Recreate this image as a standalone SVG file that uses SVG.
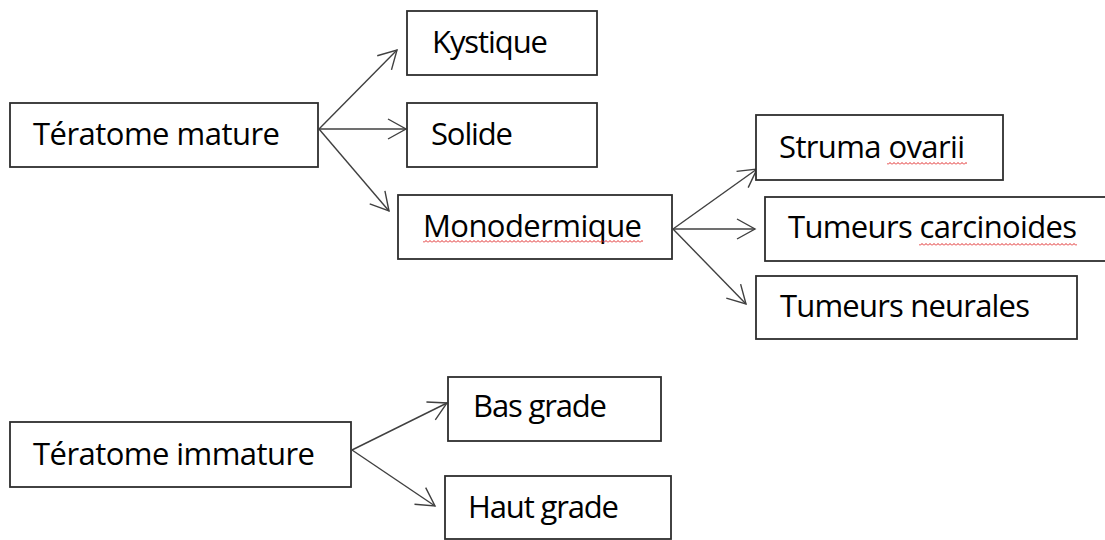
<svg xmlns="http://www.w3.org/2000/svg" width="1105" height="540" viewBox="0 0 1105 540">
<style>
.box{fill:#fff;stroke:#2e2e2e;stroke-width:1.8}
.lbl{font-family:"Open Sans","Noto Sans","Liberation Sans",sans-serif;font-size:31px;fill:#000}
.con{stroke:#404040;stroke-width:1.4;fill:none;marker-end:url(#arr)}
.wave{fill:url(#wave)}
</style>
<defs>
<marker id="arr" markerUnits="userSpaceOnUse" viewBox="-20 -12 22 24" markerWidth="22" markerHeight="24" refX="0" refY="0" orient="auto">
<path d="M-18,-10 L0,0 L-18,10" fill="none" stroke="#404040" stroke-width="1.4"/>
</marker>
<pattern id="wave" patternUnits="userSpaceOnUse" width="4" height="3">
<path d="M0,2.5 L2,0.5 L4,2.5" fill="none" stroke="#e02828" stroke-width="1"/>
</pattern>
</defs>
<rect width="1105" height="540" fill="#fff"/>
<g id="connectors">
<line class="con" x1="319" y1="129" x2="397" y2="50"/>
<line class="con" x1="319" y1="129" x2="406" y2="129"/>
<line class="con" x1="319" y1="129" x2="389" y2="211"/>
<line class="con" x1="673" y1="229" x2="757" y2="169"/>
<line class="con" x1="673" y1="229" x2="755" y2="229"/>
<line class="con" x1="673" y1="229" x2="746" y2="304"/>
<line class="con" x1="352" y1="450" x2="447" y2="403"/>
<line class="con" x1="352" y1="450" x2="435" y2="506"/>
</g>
<g id="teratome-mature">
<rect class="box" x="10" y="103" width="308" height="64"/>
<text class="lbl" x="33" y="145" textLength="247">Tératome mature</text>
</g>
<g id="kystique">
<rect class="box" x="407" y="11" width="190" height="64"/>
<text class="lbl" x="432" y="53" textLength="116">Kystique</text>
</g>
<g id="solide">
<rect class="box" x="407" y="103" width="190" height="64"/>
<text class="lbl" x="431" y="145" textLength="82">Solide</text>
</g>
<g id="monodermique">
<rect class="box" x="398" y="195" width="274" height="64"/>
<text class="lbl" x="423" y="237" textLength="219">Monodermique</text>
<rect class="wave" x="423" y="240" width="220" height="3"/>
</g>
<g id="struma-ovarii">
<rect class="box" x="756" y="115" width="247" height="65"/>
<text class="lbl" x="779" y="158" textLength="186">Struma ovarii</text>
<rect class="wave" x="887" y="162" width="80" height="3"/>
</g>
<g id="tumeurs-carcinoides">
<rect class="box" x="765" y="197" width="360" height="64"/>
<text class="lbl" x="788" y="238" textLength="289">Tumeurs carcinoides</text>
<rect class="wave" x="919" y="243" width="158" height="3"/>
</g>
<g id="tumeurs-neurales">
<rect class="box" x="756" y="276" width="321" height="63"/>
<text class="lbl" x="780" y="317" textLength="250">Tumeurs neurales</text>
</g>
<g id="teratome-immature">
<rect class="box" x="10" y="422" width="341" height="65"/>
<text class="lbl" x="33" y="465" textLength="282">Tératome immature</text>
</g>
<g id="bas-grade">
<rect class="box" x="448" y="377" width="213" height="64"/>
<text class="lbl" x="473" y="417" textLength="134">Bas grade</text>
</g>
<g id="haut-grade">
<rect class="box" x="445" y="476" width="226" height="63"/>
<text class="lbl" x="468" y="518" textLength="151">Haut grade</text>
</g>
</svg>
